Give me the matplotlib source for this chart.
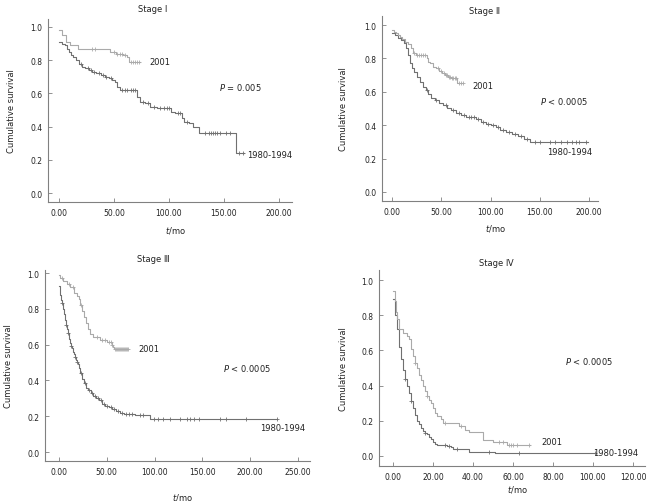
import numpy as np
import matplotlib
matplotlib.use("Agg")
import matplotlib.pyplot as plt

plt.rcParams['font.family'] = ['DejaVu Sans', 'Noto Sans CJK SC']
plt.rcParams['mathtext.fontset'] = 'dejavusans'

# ---------------- data ----------------
titles = ["Stage \u2160", "Stage \u2161", "Stage \u2162", "Stage \u2163"]
p_texts = [r"$\it{P}$ = 0.005", r"$\it{P}$ < 0.0005", r"$\it{P}$ < 0.0005", r"$\it{P}$ < 0.0005"]
xticks_list = [[0, 50, 100, 150, 200], [0, 50, 100, 150, 200],
               [0, 50, 100, 150, 200, 250], [0, 20, 40, 60, 80, 100, 120]]
yticks = [0.0, 0.2, 0.4, 0.6, 0.8, 1.0]

# Stage I
s1_new_t = [0, 3, 6, 10, 17, 46, 52, 58, 62, 64]
s1_new_s = [0.98, 0.95, 0.91, 0.89, 0.87, 0.85, 0.84, 0.83, 0.82, 0.79]
s1_new_end = 74
s1_new_c = [30, 33, 50, 53, 55, 57, 60, 65, 67, 69, 71, 73]
s1_old_t = [0, 3, 5, 7, 9, 11, 13, 15, 18, 21, 24, 27, 30, 34, 38, 42, 45, 48, 51, 53, 55,
            71, 74, 78, 83, 89, 102, 105, 112, 114, 118, 122, 127, 161]
s1_old_s = [0.91, 0.90, 0.89, 0.87, 0.85, 0.83, 0.82, 0.80, 0.78, 0.76, 0.75, 0.74, 0.73, 0.72,
            0.71, 0.70, 0.69, 0.68, 0.67, 0.64, 0.62, 0.58, 0.55, 0.54, 0.52, 0.51, 0.49, 0.48,
            0.45, 0.43, 0.42, 0.40, 0.36, 0.24]
s1_old_end = 168
s1_old_c = [20, 26, 29, 32, 36, 40, 43, 47, 57, 60, 62, 65, 67, 69, 76, 81, 86, 92, 95, 98, 100,
            108, 110, 116, 133, 136, 138, 140, 142, 144, 146, 152, 155, 164, 167]

# Stage II
s2_new_t = [0, 2, 4, 6, 8, 10, 13, 16, 19, 21, 24, 35, 37, 39, 42, 45, 48, 51, 54, 57, 60, 63, 66]
s2_new_s = [0.97, 0.96, 0.95, 0.94, 0.93, 0.915, 0.90, 0.885, 0.86, 0.835, 0.82, 0.80, 0.78,
            0.77, 0.75, 0.74, 0.725, 0.71, 0.70, 0.69, 0.685, 0.68, 0.65]
s2_new_end = 72
s2_new_c = [22, 25, 27, 29, 31, 33, 47, 50, 53, 55, 56, 58, 59, 61, 62, 64, 65, 68, 70, 72]
s2_old_t = [0, 3, 6, 9, 12, 14, 16, 18, 20, 22, 25, 28, 31, 34, 37, 40, 44, 48, 52, 56, 60, 65,
            70, 75, 85, 90, 95, 100, 106, 110, 116, 122, 128, 134, 140]
s2_old_s = [0.95, 0.94, 0.925, 0.91, 0.89, 0.86, 0.82, 0.77, 0.74, 0.72, 0.69, 0.66, 0.63, 0.61,
            0.585, 0.565, 0.55, 0.535, 0.52, 0.505, 0.49, 0.475, 0.46, 0.45, 0.44, 0.42, 0.41,
            0.40, 0.39, 0.37, 0.36, 0.345, 0.335, 0.32, 0.30]
s2_old_end = 199
s2_old_c = [35, 45, 55, 62, 68, 73, 78, 80, 83, 87, 92, 97, 103, 108, 113, 119, 125, 131, 137,
            145, 150, 160, 165, 172, 178, 183, 187, 190, 197]

# Stage III
s3_new_t = [0, 1, 4, 8, 12, 16, 19, 21, 22, 24, 26, 28, 30, 32, 36, 43, 50, 55, 57, 58]
s3_new_s = [0.99, 0.97, 0.955, 0.94, 0.92, 0.89, 0.87, 0.855, 0.82, 0.79, 0.755, 0.72, 0.69,
            0.66, 0.64, 0.625, 0.615, 0.60, 0.585, 0.575]
s3_new_end = 72.5
s3_new_c = [3, 10, 15, 23, 40, 45, 48, 52, 54, 56, 59, 60, 61, 62, 63, 64, 65, 66, 67, 68, 69,
            70, 71, 72]
s3_old_t = [0, 1, 2, 3, 4, 5, 6, 7, 8, 9, 10, 11, 12, 13, 14, 15, 16, 17, 18, 19, 20, 21, 22,
            24, 26, 28, 30, 33, 36, 39, 42, 45, 48, 52, 56, 60, 64, 68, 80, 95]
s3_old_s = [0.925, 0.875, 0.85, 0.83, 0.80, 0.77, 0.735, 0.71, 0.69, 0.665, 0.65, 0.63, 0.61,
            0.595, 0.58, 0.56, 0.545, 0.53, 0.515, 0.505, 0.49, 0.47, 0.44, 0.41, 0.385, 0.36,
            0.345, 0.33, 0.315, 0.30, 0.29, 0.27, 0.26, 0.25, 0.24, 0.23, 0.22, 0.21, 0.205,
            0.185]
s3_old_end = 228
s3_old_c = [3, 7, 9, 13, 17, 19, 23, 27, 31, 35, 38, 41, 44, 47, 50, 54, 58, 62, 66, 70, 73, 76,
            85, 88, 99, 104, 109, 116, 127, 134, 137, 141, 147, 168, 175, 196, 228]

# Stage IV
s4_new_t = [0, 1, 1.5, 2, 3, 5, 7, 8, 9, 10, 11, 12, 13, 14, 15, 16, 17, 18, 19, 20, 21, 22,
            24, 25, 33, 36, 38, 45, 50, 57]
s4_new_s = [0.94, 0.88, 0.82, 0.78, 0.72, 0.70, 0.68, 0.665, 0.61, 0.57, 0.53, 0.50, 0.46,
            0.43, 0.40, 0.37, 0.34, 0.32, 0.30, 0.27, 0.245, 0.23, 0.21, 0.19, 0.17, 0.145,
            0.135, 0.09, 0.08, 0.065]
s4_new_end = 68.5
s4_new_c = [11, 17, 26, 34, 53, 55, 58, 59, 60, 62, 68]
s4_old_t = [0, 1, 2, 3, 4, 5, 6, 7, 8, 9, 10, 11, 12, 13, 14, 15, 16, 17, 18, 19, 20, 21, 22,
            24, 27, 29, 30, 38, 51]
s4_old_s = [0.89, 0.80, 0.72, 0.62, 0.55, 0.49, 0.44, 0.40, 0.36, 0.31, 0.27, 0.235, 0.20,
            0.18, 0.16, 0.14, 0.13, 0.125, 0.11, 0.095, 0.08, 0.07, 0.065, 0.06, 0.055, 0.05,
            0.04, 0.025, 0.017]
s4_old_end = 101
s4_old_c = [6, 9, 16, 26, 28, 32, 48, 63, 101]

series_new = [(s1_new_t, s1_new_s, s1_new_end, s1_new_c), (s2_new_t, s2_new_s, s2_new_end, s2_new_c),
              (s3_new_t, s3_new_s, s3_new_end, s3_new_c), (s4_new_t, s4_new_s, s4_new_end, s4_new_c)]
series_old = [(s1_old_t, s1_old_s, s1_old_end, s1_old_c), (s2_old_t, s2_old_s, s2_old_end, s2_old_c),
              (s3_old_t, s3_old_s, s3_old_end, s3_old_c), (s4_old_t, s4_old_s, s4_old_end, s4_old_c)]

# label positions (data coords)
new_label_pos = [(82, 0.79), (82, 0.64), (83, 0.58), (74, 0.08)]
old_label_pos = [(171, 0.235), (157, 0.24), (210, 0.135), (100, 0.02)]
p_pos = [(145, 0.64), (150, 0.55), (172, 0.475), (86, 0.545)]

# ---------------- layout (pixels) ----------------
W, H = 651, 502
# left, top, right, bottom pixel boxes
boxes = [(48, 20, 292, 203), (382, 17, 598, 202), (45, 271, 310, 462), (379, 271, 645, 467)]
xlims = [(-10, 211.8), (-10.2, 209.1), (-14.6, 262.6), (-7, 126)]
ylims = [(-0.054, 1.048), (-0.054, 1.054), (-0.05, 1.017), (-0.057, 1.057)]
title_pos = [(153, 10), (485, 11), (153, 259), (496, 263)]
ylabel_x = [12, 343, 9, 343]
xlabel_y = [230, 228, 498, 490]

fig = plt.figure(figsize=(W / 100, H / 100), dpi=100)

axis_col = '#808080'
old_col = '#707070'
new_col = '#aaaaaa'

def draw(ax, data, col):
    t, s, end, cens = data
    tt = list(t) + [end]
    ss = list(s) + [s[-1]]
    ax.step(tt, ss, where='post', color=col, lw=0.8)
    ta = np.array(t)
    sa = np.array(s)
    cs = [sa[np.searchsorted(ta, c, side='right') - 1] for c in cens]
    ax.plot(cens, cs, linestyle='none', marker='+', color=col, ms=3.2, mew=0.6)

for i in range(4):
    l, tp, r, b = boxes[i]
    ax = fig.add_axes([l / W, 1 - b / H, (r - l) / W, (b - tp) / H])
    ax.set_xlim(*xlims[i])
    ax.set_ylim(*ylims[i])
    for sp in ['top', 'right']:
        ax.spines[sp].set_visible(False)
    for sp in ['left', 'bottom']:
        ax.spines[sp].set_color(axis_col)
        ax.spines[sp].set_linewidth(0.8)
    ax.set_xticks(xticks_list[i])
    ax.set_xticklabels([f"{v:.2f}" for v in xticks_list[i]])
    ax.set_yticks(yticks)
    ax.set_yticklabels([f"{v:.1f}" for v in yticks])
    ax.tick_params(direction='in', length=3, width=0.6, color=axis_col,
                   labelsize=5.5, pad=4, labelcolor='#222222')
    draw(ax, series_old[i], old_col)
    draw(ax, series_new[i], new_col)
    ax.text(*new_label_pos[i], "2001", fontsize=6, va='center', ha='left', color='#222222')
    ax.text(*old_label_pos[i], "1980-1994", fontsize=6, va='center', ha='left', color='#222222')
    ax.text(*p_pos[i], p_texts[i], fontsize=6, va='center', ha='left', color='#222222')
    fig.text(title_pos[i][0] / W, 1 - title_pos[i][1] / H, titles[i], fontsize=6,
             ha='center', va='center', color='#222222')
    fig.text(ylabel_x[i] / W, 1 - ((tp + b) / 2) / H, "Cumulative survival", rotation=90,
             fontsize=6, ha='center', va='center', color='#222222')
    fig.text(((l + r) / 2 + 5) / W, 1 - xlabel_y[i] / H, r"$\it{t}$/mo", fontsize=6,
             ha='center', va='center', color='#222222')

fig.savefig("out.png", dpi=100)
